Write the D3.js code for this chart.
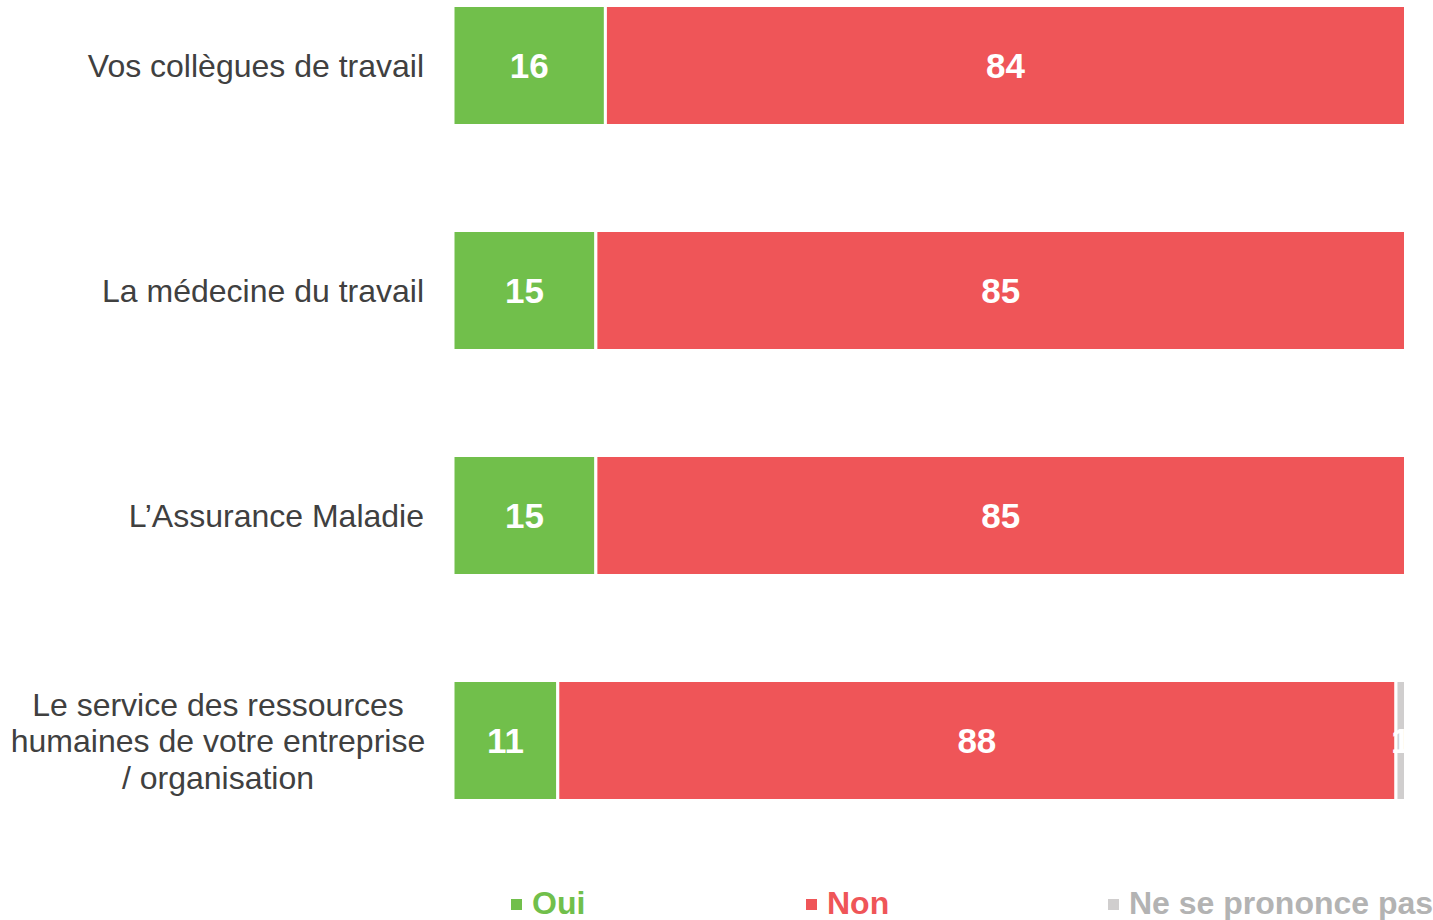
<!DOCTYPE html>
<html>
<head>
<meta charset="utf-8">
<script src="https://cdn.jsdelivr.net/npm/d3@7"></script>
<style>
  body { margin: 0; background: #fff; }
  svg { display: block; font-family: "Liberation Sans", Arial, sans-serif; }
</style>
</head>
<body>
<svg id="chart" width="1433" height="920"></svg>
<script>
// Categories (each label split into lines)
const categories = [
  ['Vos collègues de travail'],
  ['La médecine du travail'],
  ['L\u2019Assurance Maladie'],
  ['Le service des ressources', 'humaines de votre entreprise', '/ organisation']
];

// Series values (%)
const seriesNames = ['Oui', 'Non', 'Ne se prononce pas'];
const oui = [16, 15, 15, 11];
const non = [84, 85, 85, 88];
const nsp = [0, 0, 0, 1];

const colors = ['#71bf4b', '#ef5558', '#d0cece'];
const legendTextColors = ['#71bf4b', '#ef5558', '#b3b3b3'];

const svg = d3.select('#chart');

// Build rows for stacking
const keys = categories.map((c, i) => i);
const rows = keys.map(i => ({ key: i, Oui: oui[i], Non: non[i], 'Ne se prononce pas': nsp[i] }));
const stacked = d3.stack().keys(seriesNames)(rows);

const x = d3.scaleLinear().domain([0, 100]).range([453, 1405.5]);
const y = d3.scaleBand()
  .domain(keys)
  .range([-47, 853])
  .paddingInner(0.4667)
  .paddingOuter(0.4667 / 2);

// Bars
const layers = svg.append('g').selectAll('g')
  .data(stacked)
  .enter().append('g')
  .attr('fill', (d, i) => colors[i]);

layers.selectAll('rect')
  .data(d => d.filter(s => s[1] - s[0] > 0))
  .enter().append('rect')
  .attr('x', d => x(d[0]))
  .attr('y', d => y(d.data.key))
  .attr('width', d => x(d[1]) - x(d[0]))
  .attr('height', y.bandwidth())
  .style('stroke', '#fff')
  .style('stroke-width', 3);

// Value labels
layers.selectAll('text')
  .data(d => d.filter(s => s[1] - s[0] > 0))
  .enter().append('text')
  .attr('x', d => (x(d[0]) + x(d[1])) / 2)
  .attr('y', d => y(d.data.key) + y.bandwidth() / 2)
  .attr('dy', '0.36em')
  .attr('text-anchor', 'middle')
  .style('fill', '#fff')
  .style('font-weight', 'bold')
  .style('font-size', '35px')
  .text(d => d[1] - d[0]);

// Category labels
const lineH = 36.5;
const catG = svg.append('g');
categories.forEach((lines, i) => {
  const cy = y(i) + y.bandwidth() / 2;
  const multi = lines.length > 1;
  const t = catG.append('text')
    .attr('text-anchor', multi ? 'middle' : 'end')
    .style('fill', '#404040')
    .style('font-size', '32px');
  lines.forEach((ln, j) => {
    t.append('tspan')
      .attr('x', multi ? 218 : 424)
      .attr('y', cy + (j - (lines.length - 1) / 2) * lineH)
      .attr('dy', '0.36em')
      .text(ln);
  });
});

// Legend
const legendX = [511, 806, 1108];
const legend = svg.append('g');
seriesNames.forEach((name, i) => {
  legend.append('rect')
    .attr('x', legendX[i])
    .attr('y', 899)
    .attr('width', 11)
    .attr('height', 11)
    .attr('fill', colors[i]);
  legend.append('text')
    .attr('x', legendX[i] + 21)
    .attr('y', 914)
    .style('fill', legendTextColors[i])
    .style('font-weight', 'bold')
    .style('font-size', '32px')
    .text(name);
});
</script>
</body>
</html>
